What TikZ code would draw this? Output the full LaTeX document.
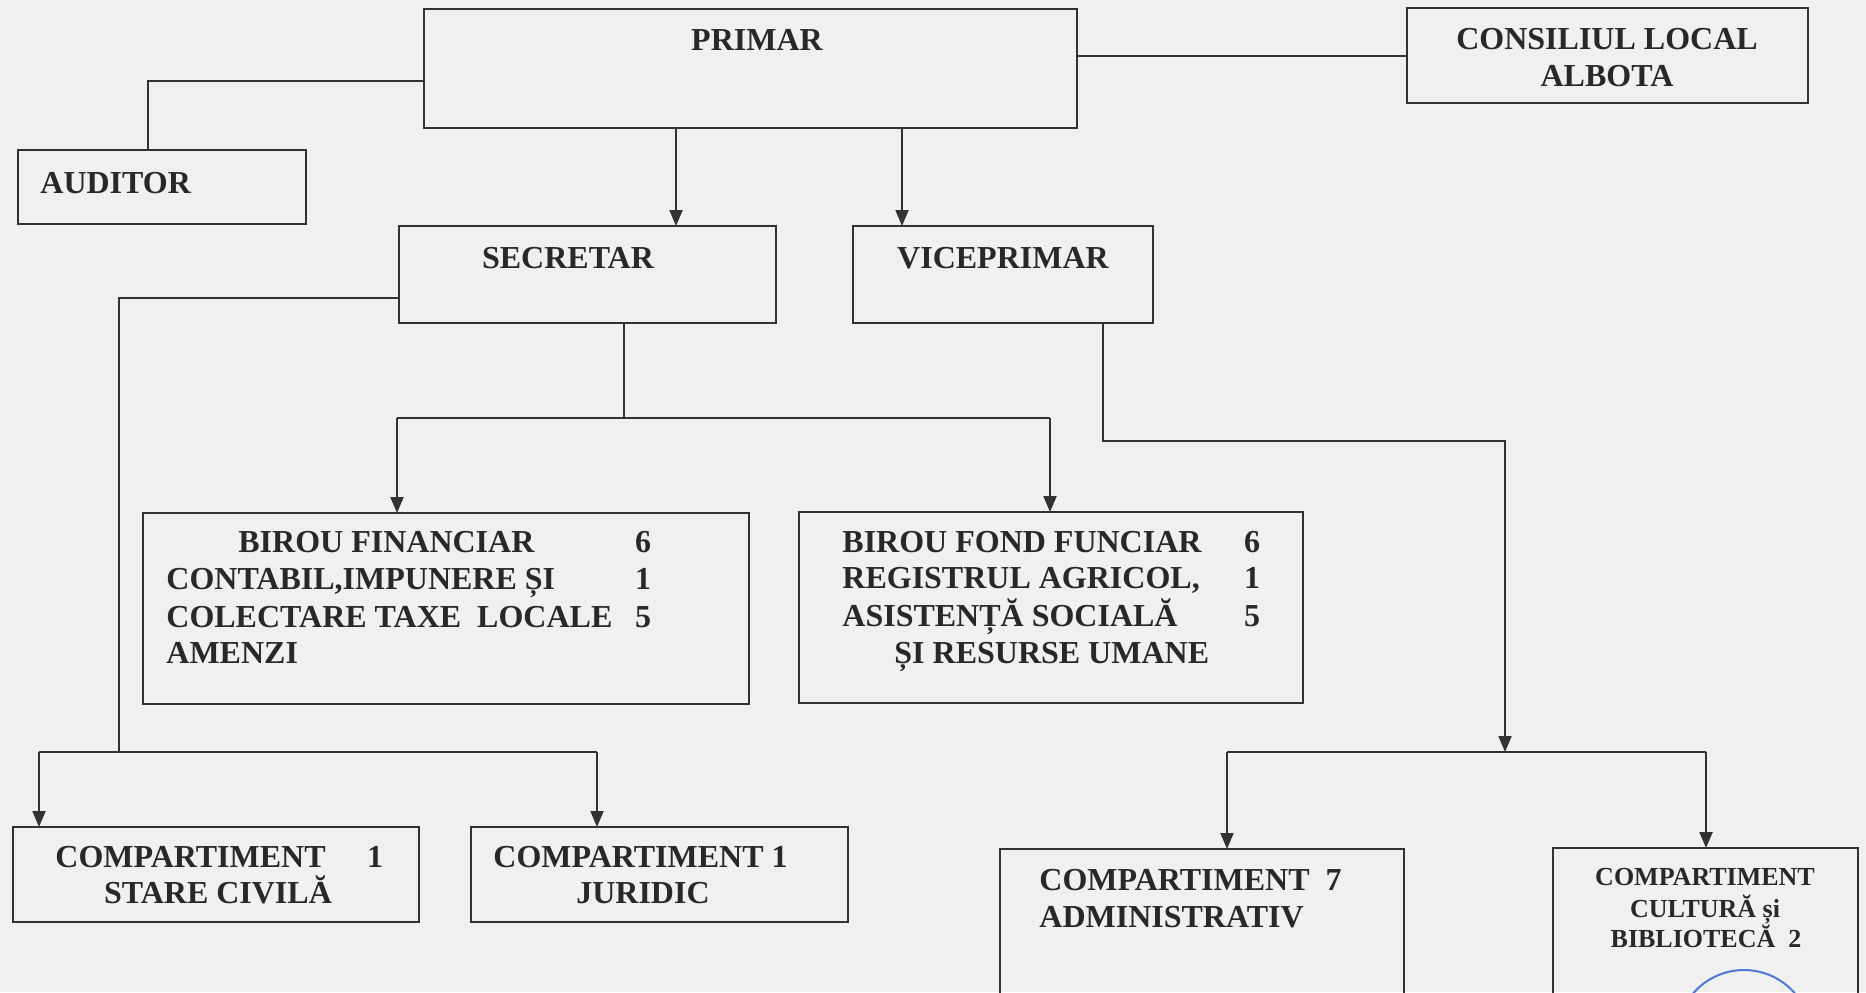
\documentclass[tikz,border=0pt]{standalone}
\usepackage{fontspec}
\setmainfont{Liberation Serif}
\usetikzlibrary{arrows.meta}
\definecolor{bgc}{RGB}{240,240,238}
\definecolor{linec}{RGB}{50,50,50}
\definecolor{textc}{RGB}{40,40,40}
\definecolor{stampc}{RGB}{80,120,215}
\tikzset{
  box/.style={draw=linec, line width=1pt, rectangle, inner sep=0pt, outer sep=0pt},
  txt/.style={font=\fontsize{16}{18}\selectfont\bfseries, text=textc, inner sep=0pt, anchor=base west},
  ctxt/.style={txt, anchor=base},
  stxt/.style={font=\fontsize{13}{15}\selectfont\bfseries, text=textc, inner sep=0pt, anchor=base},
  conn/.style={draw=linec, line width=1pt},
  arr/.style={conn, -{Triangle[length=8pt,width=6.5pt]}}
}
\begin{document}
\begin{tikzpicture}[x=0.5pt,y=-0.5pt]
\useasboundingbox (0,0) rectangle (1866,992);
\fill[bgc] (0,0) rectangle (1866,992);
\clip (0,0) rectangle (1866,992);
% boxes
\node[box, minimum width=326.5pt, minimum height=59.5pt] (primar) at (750.5,68.5) {};
\node[box, minimum width=200.5pt, minimum height=47.5pt] (consiliu) at (1607.5,55.5) {};
\node[box, minimum width=144pt, minimum height=37pt] (auditor) at (162,187) {};
\node[box, minimum width=188.5pt, minimum height=48.5pt] (secretar) at (587.5,274.5) {};
\node[box, minimum width=150pt, minimum height=48.5pt] (vice) at (1003,274.5) {};
\node[box, minimum width=303pt, minimum height=95.5pt] (financiar) at (446,608.5) {};
\node[box, minimum width=252pt, minimum height=95.5pt] (fond) at (1051,607.5) {};
\node[box, minimum width=203pt, minimum height=47.5pt] (stare) at (216,874.5) {};
\node[box, minimum width=188.5pt, minimum height=47.5pt] (juridic) at (659.5,874.5) {};
\node[box, minimum width=202pt, minimum height=85.5pt] (admin) at (1202,934.5) {};
\node[box, minimum width=152.5pt, minimum height=86pt] (cultura) at (1705.5,934) {};
% texts
\node[ctxt] (tprimar) at (757,50) {PRIMAR};
\node[ctxt] (tcons1) at (1607,49) {CONSILIUL LOCAL};
\node[ctxt] (tcons2) at (1607,86) {ALBOTA};
\node[txt] (taud) at (40,193) {AUDITOR};
\node[ctxt] (tsec) at (568,268) {SECRETAR};
\node[ctxt] (tvice) at (1003,268) {VICEPRIMAR};
\node[txt] (tf1) at (238,552) {BIROU FINANCIAR};
\node[txt] (tf2) at (166,589) {CONTABIL,IMPUNERE ȘI};
\node[txt] (tf3) at (166,627) {COLECTARE TAXE\ \ LOCALE};
\node[txt] (tf4) at (166,663) {AMENZI};
\node[ctxt] (tfn1) at (643,552) {6};
\node[ctxt] (tfn2) at (643,589) {1};
\node[ctxt] (tfn3) at (643,627) {5};
\node[txt] (td1) at (842,552) {BIROU FOND FUNCIAR};
\node[txt] (td2) at (842,588) {REGISTRUL AGRICOL,};
\node[txt] (td3) at (842,626) {ASISTENȚĂ SOCIALĂ};
\node[txt] (td4) at (894,663) {ȘI RESURSE UMANE};
\node[ctxt] (tdn1) at (1252,552) {6};
\node[ctxt] (tdn2) at (1252,588) {1};
\node[ctxt] (tdn3) at (1252,626) {5};
\node[txt] (ts1) at (55,867) {COMPARTIMENT};
\node[ctxt] (ts1n) at (375,867) {1};
\node[ctxt] (ts2) at (218,903) {STARE CIVILĂ};
\node[txt] (tj1) at (493,867) {COMPARTIMENT 1};
\node[ctxt] (tj2) at (643,903) {JURIDIC};
\node[txt] (ta1) at (1039,890) {COMPARTIMENT\ \ 7};
\node[txt] (ta2) at (1039,927) {ADMINISTRATIV};
\node[stxt] (tc1) at (1705,885) {COMPARTIMENT};
\node[stxt] (tc2) at (1705,917) {CULTURĂ și};
\node[stxt] (tc3) at (1706,947) {BIBLIOTECĂ\ \ 2};
% connectors
\coordinate (a1) at (148,81);
\draw[conn] (primar.west |- a1) -- (a1) -- (a1 |- auditor.north);
\draw[conn] (primar.east |- consiliu.west) -- (consiliu.west);
\coordinate (p1) at (676,0);
\coordinate (p2) at (902,0);
\draw[arr] (primar.south -| p1) -- (secretar.north -| p1);
\draw[arr] (primar.south -| p2) -- (vice.north -| p2);
\coordinate (s1) at (624,418);
\coordinate (s2) at (397,418);
\coordinate (s3) at (1050,418);
\draw[conn] (secretar.south -| s1) -- (s1);
\draw[conn] (s2) -- (s3);
\draw[arr] (s2) -- (financiar.north -| s2);
\draw[arr] (s3) -- (fond.north -| s3);
\coordinate (l1) at (119,298);
\coordinate (l2) at (119,752);
\coordinate (l3) at (39,752);
\coordinate (l4) at (597,752);
\draw[conn] (secretar.west |- l1) -- (l1) -- (l2);
\draw[conn] (l3) -- (l4);
\draw[arr] (l3) -- (stare.north -| l3);
\draw[arr] (l4) -- (juridic.north -| l4);
\coordinate (v1) at (1103,441);
\coordinate (v2) at (1505,441);
\coordinate (v3) at (1505,752);
\draw[arr] (vice.south -| v1) -- (v1) -- (v2) -- (v3);
\coordinate (r1) at (1227,752);
\coordinate (r2) at (1706,752);
\draw[conn] (r1) -- (r2);
\draw[arr] (r1) -- (admin.north -| r1);
\draw[arr] (r2) -- (cultura.north -| r2);
% stamp fragment
\draw[stampc, line width=1pt] (1744,1037) circle[radius=67];
\end{tikzpicture}
\end{document}
